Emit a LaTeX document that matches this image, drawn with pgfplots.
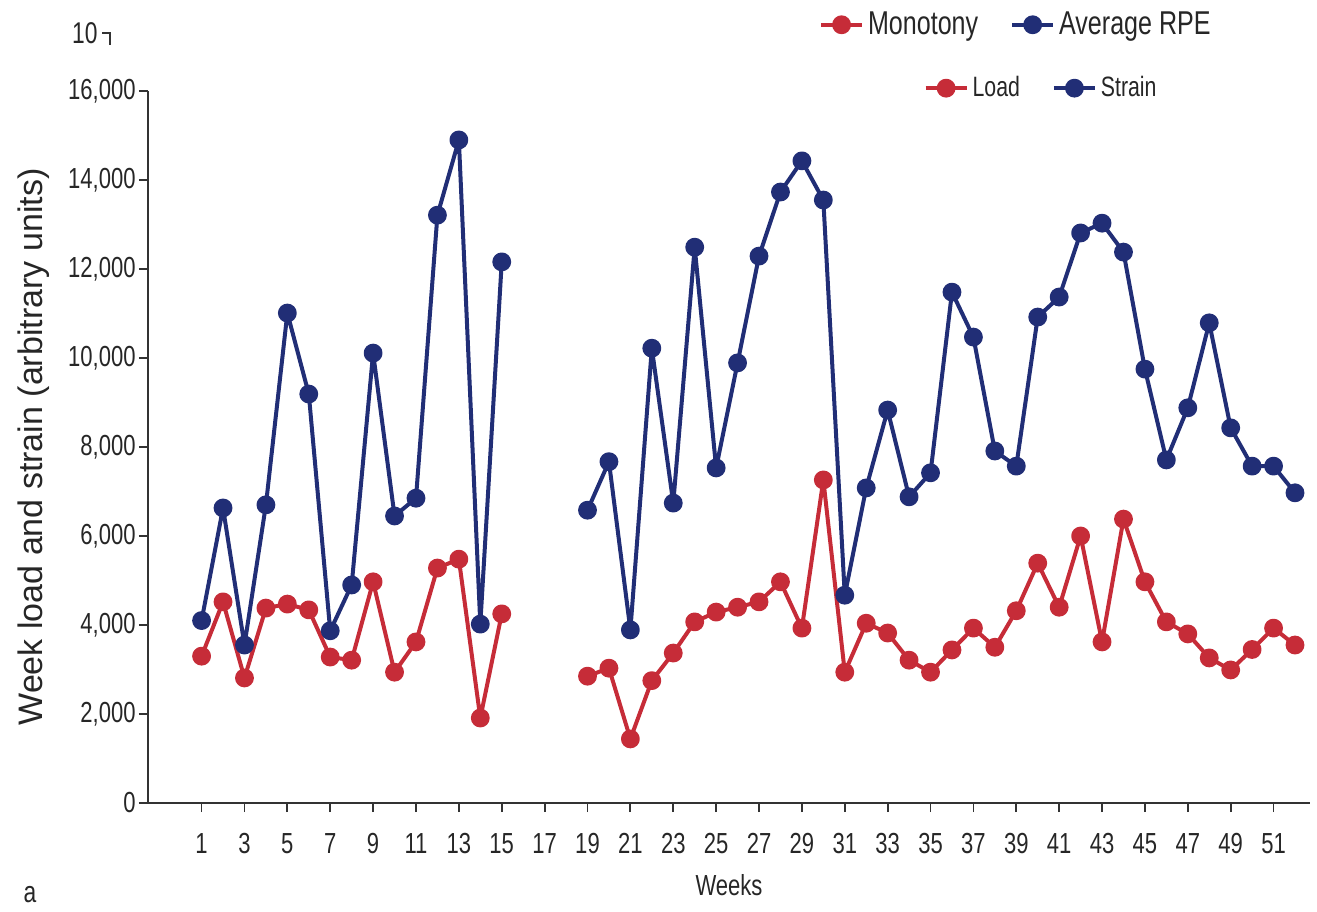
\documentclass[border=0pt]{standalone}
\usepackage{pgfplots}
\usepackage{pgfplotstable}
\pgfplotsset{compat=1.18}
\usepackage{fontspec}
\setmainfont{Liberation Sans}[FakeStretch=0.76]
\newfontfamily\labelfont{Liberation Sans}
\definecolor{strainblue}{RGB}{33,46,118}
\definecolor{loadred}{RGB}{198,44,56}

\pgfplotstableread{
week load strain
1 3300 4100
2 4520 6630
3 2810 3550
4 4380 6700
5 4470 11010
6 4340 9190
7 3280 3870
8 3210 4900
9 4970 10110
10 2940 6450
11 3620 6850
12 5280 13210
13 5480 14900
14 1910 4020
15 4250 12160
16 nan nan
17 nan nan
18 nan nan
19 2850 6580
20 3030 7670
21 1440 3890
22 2750 10220
23 3370 6740
24 4070 12490
25 4290 7530
26 4400 9890
27 4520 12290
28 4970 13730
29 3930 14430
30 7260 13550
31 2940 4670
32 4040 7080
33 3820 8830
34 3210 6880
35 2940 7420
36 3440 11480
37 3930 10470
38 3500 7910
39 4320 7570
40 5390 10920
41 4400 11370
42 6000 12810
43 3620 13030
44 6380 12380
45 4970 9750
46 4070 7710
47 3800 8880
48 3260 10790
49 2990 8430
50 3450 7570
51 3930 7570
52 3550 6970
}\datatable

\pgfplotsset{
  mylegend/.style={legend image code/.code={
    \draw[##1, mark=none] (0cm,0cm) -- (0.72cm,0cm);
    \draw[##1, only marks] plot coordinates {(0.36cm,0cm)};
  }},
}

\begin{document}
\begin{tikzpicture}
\useasboundingbox (-74pt,-54pt) rectangle (584.5pt,401.5pt);
\begin{axis}[
  at={(0,0)}, anchor=south west,
  width=581pt, height=356pt, scale only axis,
  xmin=-1.5, xmax=52.7, ymin=0, ymax=16000,
  axis lines=left, axis line style={-, line width=0.9pt, black!80},
  xtick={1,3,...,51},
  ytick={0,2000,...,16000},
  tick align=outside, major tick length=4.5pt,
  tick style={line width=0.9pt, black!80},
  /pgf/number format/assume math mode=true,
  /pgf/number format/1000 sep={,},
  scaled y ticks=false,
  ticklabel style={font=\fontsize{14.5}{17}\selectfont, text=black!85},
  xticklabel style={yshift=-7pt},
  yticklabel style={xshift=1.8pt},
  xlabel={Weeks},
  xlabel style={font=\fontsize{14.5}{17}\selectfont, text=black!85, at={(axis description cs:0.5,-0.115)}, anchor=center},
  ylabel={Week load and strain (arbitrary units)},
  ylabel style={font=\labelfont\fontsize{17}{19}\selectfont, text=black!85, at={(axis description cs:-0.098,0.5)}, anchor=center},
  unbounded coords=jump,
  mylegend,
  legend columns=2,
  legend style={draw=none, fill=none, at={(axis description cs:0.662,1.004)}, anchor=west,
    font=\fontsize{14}{16}\selectfont, text=black!85,
    /tikz/every even column/.append style={column sep=14pt}},
]
\addplot[loadred, line width=2pt, line join=round, mark=*, mark size=3.7pt] table[x=week, y=load] {\datatable};
\addlegendentry{Load}
\addplot[strainblue, line width=2pt, line join=round, mark=*, mark size=3.7pt] table[x=week, y=strain] {\datatable};
\addlegendentry{Strain}
\end{axis}
\begin{axis}[
  at={(0,0)}, anchor=south west,
  width=581pt, height=356pt, scale only axis,
  xmin=0, xmax=1, ymin=0, ymax=1,
  hide axis,
  mylegend,
  legend columns=2,
  legend style={draw=none, fill=none, at={(axis description cs:0.572,1.093)}, anchor=west,
    font=\fontsize{16.5}{19}\selectfont, text=black!85,
    /tikz/every even column/.append style={column sep=14pt}},
]
\addlegendimage{loadred, line width=2pt, mark=*, mark size=3.7pt}
\addlegendentry{Monotony}
\addlegendimage{strainblue, line width=2pt, mark=*, mark size=3.7pt}
\addlegendentry{Average RPE}
\end{axis}
\node[anchor=east, font=\fontsize{15}{17}\selectfont, text=black!85, inner sep=0pt] at (-25pt,385pt) {10};
\draw[line width=0.9pt, black!80] (-23pt,385pt) -- (-19pt,385pt) -- (-19pt,379pt);
\node[font=\fontsize{15}{17}\selectfont, text=black!85] at (-59pt,-46pt) {a};
\end{tikzpicture}
\end{document}
